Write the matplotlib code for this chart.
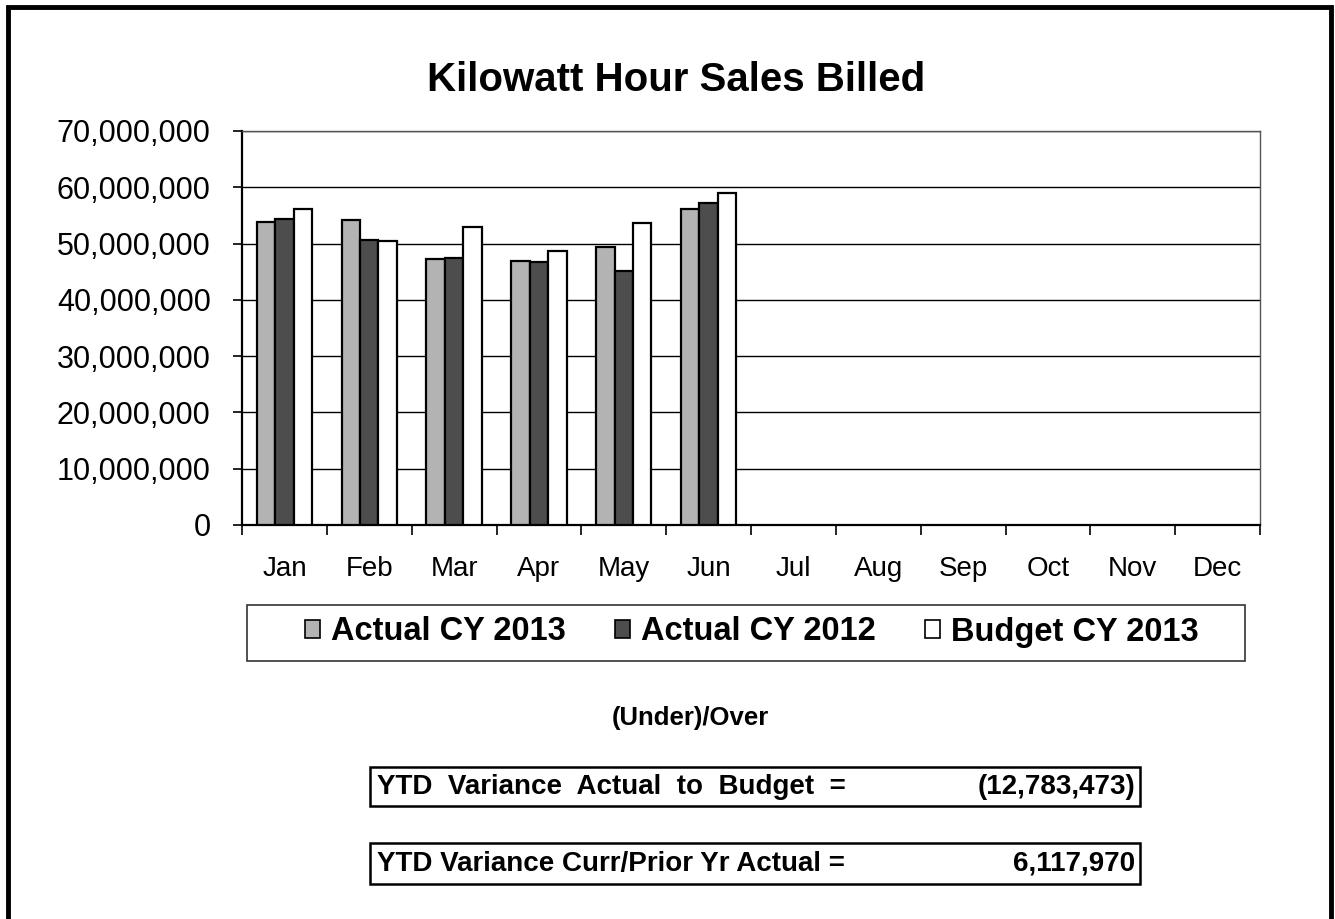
import numpy as np
import matplotlib
matplotlib.use("Agg")
import matplotlib.pyplot as plt
from matplotlib.patches import Rectangle, Patch
from matplotlib.ticker import FuncFormatter

plt.rcParams["font.family"] = ["Liberation Sans", "DejaVu Sans"]

# Monthly kWh billed (Jan-Jun, rest not yet reported)
months = ["Jan", "Feb", "Mar", "Apr", "May", "Jun",
          "Jul", "Aug", "Sep", "Oct", "Nov", "Dec"]
actual_2013 = [53.9e6, 54.2e6, 47.2e6, 46.9e6, 49.4e6, 56.1e6]
actual_2012 = [54.4e6, 50.7e6, 47.4e6, 46.8e6, 45.2e6, 57.2e6]
budget_2013 = [56.1e6, 50.4e6, 53.0e6, 48.6e6, 53.7e6, 59.0e6]
series_names = ["Actual CY 2013", "Actual CY 2012", "Budget CY 2013"]
series_colors = ["#b3b3b3", "#4d4d4d", "#ffffff"]

var_budget_label = "YTD  Variance  Actual  to  Budget  ="
var_budget_value = "(12,783,473)"
var_prior_label = "YTD Variance Curr/Prior Yr Actual ="
var_prior_value = "6,117,970"

W, H = 1335, 919
fig = plt.figure(figsize=(W / 100, H / 100), dpi=100)

# page frame (bottom edge runs off the scan)
fig.add_artist(Rectangle((8 / W, -0.05), (1331 - 8) / W, 1.05 - 7 / H,
                         transform=fig.transFigure, fill=False,
                         edgecolor="black", linewidth=3.5))

ax = fig.add_axes([242 / W, 1 - 525 / H, (1260 - 242) / W, (525 - 131) / H])

x = np.arange(len(months))
bw = 0.218
for i, (vals, col) in enumerate(zip([actual_2013, actual_2012, budget_2013], series_colors)):
    n = len(vals)
    ax.bar(x[:n] + (i - 1) * bw, vals, width=bw, color=col,
           edgecolor="black", linewidth=1.6, zorder=3)

ax.set_xlim(-0.5, 11.5)
ax.set_ylim(0, 70e6)
ax.set_yticks(np.arange(0, 70e6 + 1, 10e6))
ax.yaxis.set_major_formatter(FuncFormatter(lambda v, p: f"{v:,.0f}"))
ax.grid(axis="y", color="black", linewidth=1.0, zorder=0)

ax.set_xticks(x)
ax.set_xticklabels(months)
ax.set_xticks(np.arange(-0.5, 12, 1), minor=True)
ax.tick_params(axis="x", which="major", length=0, pad=22, labelsize=20)
ax.tick_params(axis="x", which="minor", length=7, width=1.2, direction="out")
ax.tick_params(axis="y", length=6.5, width=1.2, pad=16, labelsize=22)

for s in ["left", "bottom"]:
    ax.spines[s].set_linewidth(1.6)
for s in ["top", "right"]:
    ax.spines[s].set_color("#555555")
    ax.spines[s].set_linewidth(1.0)

fig.text(676 / W, 1 - 80 / H, "Kilowatt Hour Sales Billed",
         ha="center", va="center", fontsize=29, fontweight="bold")

# legend box
fig.add_artist(Rectangle((247 / W, 1 - 661 / H), (1245 - 247) / W, 56 / H,
                         transform=fig.transFigure, fill=False,
                         edgecolor="#333333", linewidth=1.2))
handles = [Patch(facecolor=c, edgecolor="black", linewidth=1.2) for c in series_colors]
fig.legend(handles, series_names, loc="center", ncol=3,
           bbox_to_anchor=(752 / W, 1 - 632 / H), frameon=False,
           prop={"size": 23.5, "weight": "bold"},
           handlelength=0.45, handleheight=0.45, handletextpad=0.35,
           columnspacing=1.5)

fig.text(690 / W, 1 - 718 / H, "(Under)/Over", ha="center", va="center",
         fontsize=18.5, fontweight="bold")

for label, value, top, bottom in [(var_budget_label, var_budget_value, 767, 806),
                                  (var_prior_label, var_prior_value, 843, 884)]:
    fig.add_artist(Rectangle((370 / W, 1 - bottom / H), 770 / W, (bottom - top) / H,
                             transform=fig.transFigure, fill=False,
                             edgecolor="black", linewidth=1.8))
    yc = 1 - (top + bottom) / 2 / H
    fig.text(377 / W, yc, label, ha="left", va="center",
             fontsize=20, fontweight="bold")
    fig.text(1135 / W, yc, value, ha="right", va="center",
             fontsize=20, fontweight="bold")

fig.savefig("out.png", dpi=100)
